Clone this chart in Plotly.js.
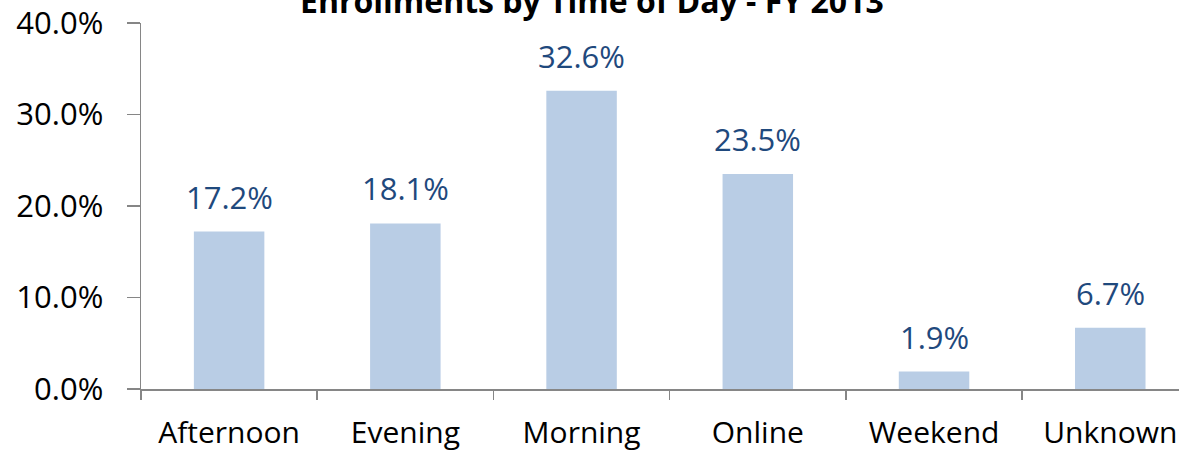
<!DOCTYPE html>
<html>
<head>
<meta charset="utf-8">
<script src="https://cdn.plot.ly/plotly-3.0.1.min.js"></script>
<style>
html,body{margin:0;padding:0;background:#fff;}
#chart{width:1179px;height:451px;}
</style>
</head>
<body>
<div id="chart"></div>
<script>
const chartTitle = "Enrollments by Time of Day - FY 2013";
const categories = ["Afternoon", "Evening", "Morning", "Online", "Weekend", "Unknown"];
const shares = [17.2, 18.1, 32.6, 23.5, 1.9, 6.7];
const yTickValues = [0, 10, 20, 30, 40];

const FONT = "Open Sans, Noto Sans, sans-serif";
const axisColor = "#868686";

const trace = {
  type: "bar",
  x: categories,
  y: shares,
  width: 0.4,
  marker: {color: "#B9CDE5", line: {width: 0}},
  hoverinfo: "x+y"
};

const annotations = categories.map((c, i) => ({
  x: c, y: shares[i], xref: "x", yref: "y",
  text: shares[i].toFixed(1) + "%",
  showarrow: false, yanchor: "bottom", yshift: 12,
  font: {family: FONT, size: 31, color: "#1F497D"}
}));

const layout = {
  width: 1179, height: 451,
  margin: {l: 141, r: 0, t: 23, b: 62, pad: 0},
  paper_bgcolor: "#fff", plot_bgcolor: "#fff",
  showlegend: false,
  title: {
    text: "<b>" + chartTitle + "</b>",
    font: {family: FONT, size: 32, color: "#000"},
    x: 0.502, xanchor: "center", xref: "container",
    y: 0.996, yanchor: "middle", yref: "container"
  },
  xaxis: {
    type: "category",
    range: [-0.5, 5.39],
    tickson: "boundaries",
    ticks: "outside", ticklen: 9, tickcolor: axisColor, tickwidth: 1.5,
    ticklabelstandoff: 16,
    showline: true, linecolor: axisColor, linewidth: 1.5,
    showgrid: false, zeroline: false,
    tickfont: {family: FONT, size: 30, color: "#000"},
    fixedrange: true
  },
  yaxis: {
    range: [0, 40],
    tickvals: yTickValues,
    ticktext: yTickValues.map(v => v.toFixed(1) + "%"),
    ticks: "outside", ticklen: 13, tickcolor: axisColor, tickwidth: 1.5,
    ticklabelstandoff: 17,
    showline: true, linecolor: axisColor, linewidth: 1.5,
    showgrid: false, zeroline: false,
    tickfont: {family: FONT, size: 31, color: "#000"},
    fixedrange: true
  },
  annotations: annotations
};

Plotly.newPlot("chart", [trace], layout, {displayModeBar: false, staticPlot: true});
</script>
</body>
</html>
